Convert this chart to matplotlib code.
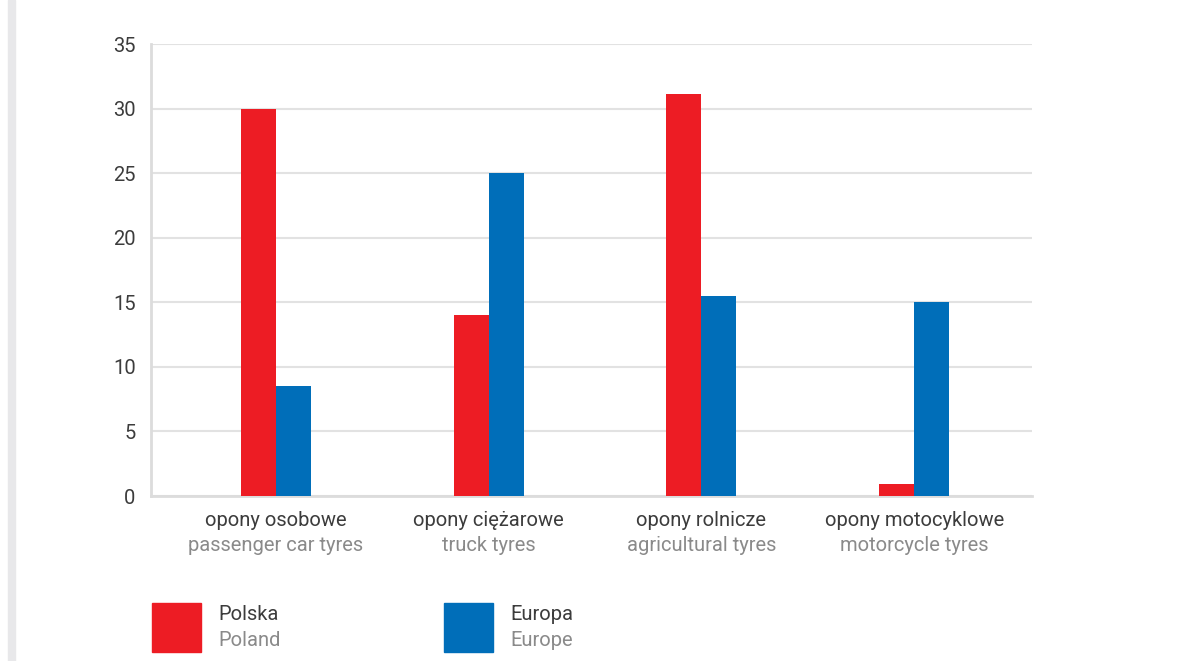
import matplotlib
matplotlib.use("Agg")
import matplotlib.pyplot as plt
from matplotlib.patches import Rectangle
import numpy as np

plt.rcParams['font.family'] = ['Roboto', 'DejaVu Sans']

# data
categories_pl = ['opony osobowe', 'opony ciężarowe', 'opony rolnicze', 'opony motocyklowe']
categories_en = ['passenger car tyres', 'truck tyres', 'agricultural tyres', 'motorcycle tyres']
poland = [30.0, 14.0, 31.1, 0.9]
europe = [8.5, 25.0, 15.5, 15.0]
yticks = [0, 5, 10, 15, 20, 25, 30, 35]

RED = '#ed1c24'
BLUE = '#006eb9'
DARK = '#3c3c3c'
GREY = '#8a8a8a'
FS = 14.5

fig = plt.figure(figsize=(11.8, 6.61), dpi=100)
ax = fig.add_axes([151 / 1180, 1 - 496 / 661, (1032 - 151) / 1180, (496 - 44) / 661])

x = np.arange(len(categories_pl))
w = 0.165
ax.bar(x - w / 2, poland, w, color=RED, zorder=3)
ax.bar(x + w / 2, europe, w, color=BLUE, zorder=3)

ax.set_ylim(0, 35)
ax.set_xlim(-0.587, 3.554)
ax.set_yticks(yticks)
ax.set_yticklabels([str(t) for t in yticks], fontsize=FS, color=DARK)
ax.tick_params(axis='y', length=0, pad=11)
ax.tick_params(axis='x', length=0)
ax.set_xticks([])
ax.grid(axis='y', color='#e2e2e2', linewidth=1.5, zorder=0)

for s in ['top', 'right']:
    ax.spines[s].set_visible(False)
for s in ['left', 'bottom']:
    ax.spines[s].set_color('#dcdcdc')
    ax.spines[s].set_linewidth(2)

for i in range(len(categories_pl)):
    ax.text(x[i], -1.9, categories_pl[i], ha='center', va='center', fontsize=FS,
            color=DARK)
    ax.text(x[i], -3.85, categories_en[i], ha='center', va='center', fontsize=FS,
            color=GREY)

# gray strip at left edge
fig.add_artist(Rectangle((8 / 1180, 0), 7 / 1180, 1, transform=fig.transFigure,
                         color='#e8e8ea', zorder=0))

# legend
legend = [(152, RED, 'Polska', 'Poland'), (444, BLUE, 'Europa', 'Europe')]
for lx, c, t1, t2 in legend:
    fig.add_artist(Rectangle((lx / 1180, 1 - 652 / 661), 49 / 1180, 49 / 661,
                             transform=fig.transFigure, color=c))
    fig.text((lx + 66) / 1180, 1 - 615 / 661, t1, ha='left', va='center', fontsize=FS,
             color=DARK)
    fig.text((lx + 66) / 1180, 1 - 640 / 661, t2, ha='left', va='center', fontsize=FS,
             color=GREY)

fig.savefig('out.png', dpi=100)
